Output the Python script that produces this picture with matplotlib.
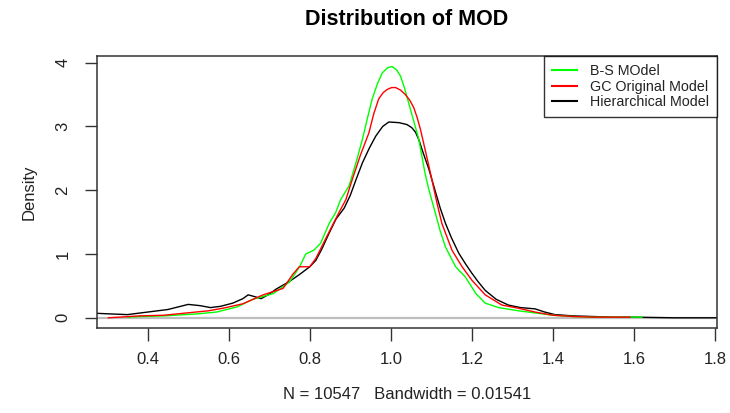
import matplotlib
matplotlib.use("Agg")
import matplotlib.pyplot as plt
from matplotlib.lines import Line2D

# Data
hier_x = [0.275, 0.31, 0.35, 0.40, 0.45, 0.50, 0.53, 0.555, 0.58, 0.61, 0.635, 0.648, 0.665, 0.68,
          0.70, 0.717, 0.75, 0.775, 0.80, 0.815, 0.83, 0.848, 0.865, 0.885, 0.90, 0.915, 0.93,
          0.947, 0.963, 0.98, 0.995, 1.02, 1.04, 1.052, 1.061, 1.07, 1.077, 1.094, 1.11, 1.122,
          1.135, 1.15, 1.168, 1.185, 1.20, 1.215, 1.233, 1.26, 1.29, 1.32, 1.356, 1.38, 1.405,
          1.45, 1.50, 1.55, 1.60, 1.65, 1.70, 1.805]
hier_y = [0.07, 0.06, 0.05, 0.09, 0.13, 0.21, 0.19, 0.16, 0.18, 0.23, 0.30, 0.36, 0.33, 0.30,
          0.37, 0.45, 0.57, 0.68, 0.80, 0.90, 1.08, 1.33, 1.55, 1.72, 1.92, 2.18, 2.43,
          2.66, 2.85, 3.00, 3.07, 3.06, 3.03, 2.98, 2.91, 2.78, 2.64, 2.33, 1.98, 1.72,
          1.48, 1.25, 1.01, 0.84, 0.70, 0.57, 0.43, 0.29, 0.20, 0.16, 0.14, 0.09, 0.05,
          0.03, 0.02, 0.01, 0.01, 0.005, 0.0, 0.0]

bs_x = [0.35, 0.38, 0.44, 0.52, 0.57, 0.62, 0.66, 0.71, 0.75, 0.775, 0.79, 0.81, 0.827, 0.848,
        0.864, 0.876, 0.897, 0.915, 0.93, 0.942, 0.954, 0.967, 0.979, 0.992, 1.003, 1.014,
        1.024, 1.034, 1.044, 1.056, 1.069, 1.085, 1.094, 1.11, 1.122, 1.135, 1.16, 1.184,
        1.21, 1.233, 1.266, 1.315, 1.364, 1.40, 1.45, 1.50, 1.55, 1.62]
bs_y = [0.01, 0.02, 0.03, 0.06, 0.09, 0.17, 0.29, 0.38, 0.56, 0.80, 1.00, 1.06, 1.17, 1.48,
        1.65, 1.85, 2.07, 2.45, 2.80, 3.12, 3.43, 3.67, 3.84, 3.92, 3.94, 3.89,
        3.79, 3.60, 3.37, 3.10, 2.80, 2.25, 2.01, 1.64, 1.36, 1.11, 0.80, 0.64,
        0.38, 0.23, 0.16, 0.11, 0.07, 0.04, 0.02, 0.01, 0.01, 0.01]

gc_x = [0.303, 0.38, 0.44, 0.503, 0.55, 0.586, 0.635, 0.685, 0.734, 0.758, 0.774, 0.80, 0.815,
        0.848, 0.872, 0.889, 0.905, 0.925, 0.946, 0.958, 0.97, 0.981, 0.991, 1.002, 1.012,
        1.024, 1.036, 1.047, 1.057, 1.065, 1.073, 1.094, 1.114, 1.126, 1.151, 1.176, 1.20,
        1.233, 1.274, 1.315, 1.356, 1.40, 1.45, 1.50, 1.59]
gc_y = [0.0, 0.03, 0.04, 0.08, 0.11, 0.15, 0.22, 0.36, 0.46, 0.68, 0.80, 0.80, 0.93,
        1.35, 1.65, 1.85, 2.17, 2.55, 2.90, 3.20, 3.43, 3.53, 3.58, 3.61, 3.61,
        3.57, 3.50, 3.41, 3.29, 3.14, 2.96, 2.38, 1.80, 1.48, 1.06, 0.80, 0.59,
        0.36, 0.20, 0.15, 0.09, 0.04, 0.02, 0.01, 0.01]

series_labels = ["B-S MOdel", "GC Original Model", "Hierarchical Model"]
x_ticks = [0.4, 0.6, 0.8, 1.0, 1.2, 1.4, 1.6, 1.8]
y_ticks = [0, 1, 2, 3, 4]

plt.rcParams['font.family'] = ['Liberation Sans', 'DejaVu Sans']

fig = plt.figure(figsize=(7.30, 4.13), dpi=100)
ax = fig.add_axes([97/730, 1-328/413, (717-97)/730, (328-56)/413])

ax.axhline(0, color='#BEBEBE', lw=1.6, zorder=1)
ax.plot(hier_x, hier_y, color='black', lw=1.0, zorder=2)
ax.plot(bs_x, bs_y, color='#00FF00', lw=1.0, zorder=3)
ax.plot(gc_x, gc_y, color='#FF0000', lw=1.0, zorder=4)

ax.set_xlim(0.275, 1.805)
ax.set_ylim(-0.16, 4.105)
ax.set_xticks(x_ticks)
ax.set_xticklabels([f"{v:.1f}" for v in x_ticks])
ax.set_yticks(y_ticks)
ax.set_yticklabels([str(v) for v in y_ticks], rotation=90, va='center')

for s in ax.spines.values():
    s.set_color('#333333')
    s.set_linewidth(1.1)
ax.tick_params(axis='both', direction='out', length=9, width=1.0, color='#333333',
               labelsize=12, labelcolor='#222222')
ax.tick_params(axis='x', pad=8)
ax.tick_params(axis='y', pad=10)

ax.set_title("Distribution of MOD", fontsize=15.5, fontweight='bold', pad=22)
ax.set_ylabel("Density", fontsize=12, color='#222222', labelpad=14)
ax.set_xlabel("N = 10547   Bandwidth = 0.01541", fontsize=12, color='#222222', labelpad=15)

handles = [Line2D([], [], color='#00FF00', lw=1.5),
           Line2D([], [], color='#FF0000', lw=1.5),
           Line2D([], [], color='black', lw=1.5)]
leg = ax.legend(handles, series_labels, loc='upper right', borderaxespad=0,
                fancybox=False, frameon=True, fontsize=10.3, handlelength=1.8,
                handletextpad=0.9, labelspacing=0.12, borderpad=0.55)
leg.get_frame().set_edgecolor('black')
leg.get_frame().set_linewidth(1.0)
for t in leg.get_texts():
    t.set_color('#222222')

fig.savefig("out.png", dpi=100)
